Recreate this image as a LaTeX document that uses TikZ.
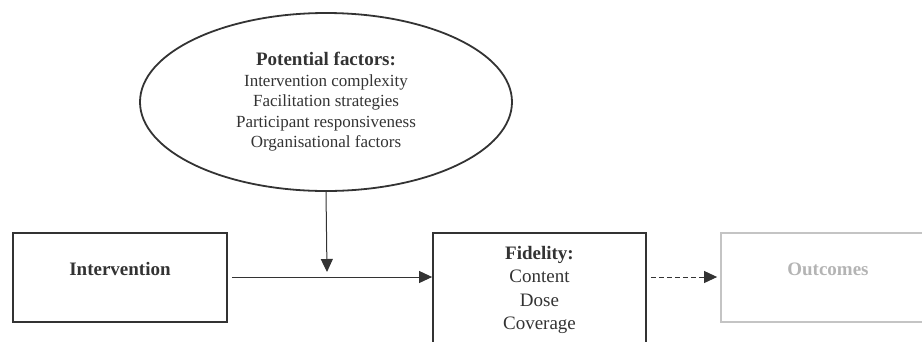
\documentclass[tikz,border=0pt]{standalone}
\usepackage{fontspec}
\setmainfont{Liberation Serif}
\usetikzlibrary{shapes.geometric,arrows.meta}
\definecolor{ink}{HTML}{333333}
\definecolor{faded}{HTML}{C4C4C4}
\definecolor{fadedtext}{HTML}{B4B4B4}
\newcommand{\bigb}[1]{{\fontsize{19}{20.5}\selectfont\textbf{#1}}}
\begin{document}
\begin{tikzpicture}[x=1pt,y=-1pt,
  every node/.style={font=\fontsize{17}{20.5}\selectfont, text=ink, align=center},
  box/.style={draw=ink, line width=1.8pt, inner sep=0pt},
  conn/.style={draw=ink, line width=1pt, -{Triangle[length=13pt,width=12pt]}},
  ]
\useasboundingbox (0,0) rectangle (922,341);
\clip (0,0) rectangle (922,341);
\node[draw=ink, line width=1.8pt, ellipse, minimum width=372pt, minimum height=178pt, inner sep=0pt] (pf) at (326,102) {};
\node (pft) at (326,102) {\bigb{Potential factors:}\\Intervention complexity\\Facilitation strategies\\Participant responsiveness\\Organisational factors};
\node[box, minimum width=214pt, minimum height=89pt] (int) at (120,277.5) {};
\node (intt) at (120,269) {\bigb{Intervention}};
\node[box, minimum width=213pt, minimum height=120pt] (fid) at (539.5,293) {};
\node[font=\fontsize{19}{23.5}\selectfont] (fidt) at (539.5,290) {\textbf{Fidelity:}\\Content\\Dose\\Coverage};
\node[draw=faded, line width=1.8pt, minimum width=214pt, minimum height=89pt, inner sep=0pt] (out) at (828,277.5) {};
\node[text=fadedtext] (outt) at (828,269) {\bigb{Outcomes}};
\coordinate (m) at (327,272);
\draw[conn] (pf.south) -- (m);
\draw[conn] (int.east |- 0,277) ++(4,0) -- (fid.west |- 0,277);
\draw[conn, dash pattern=on 5pt off 3pt] (fid.east |- 0,277) ++(4,0) -- ([xshift=-3pt]out.west |- 0,277);
\end{tikzpicture}
\end{document}
